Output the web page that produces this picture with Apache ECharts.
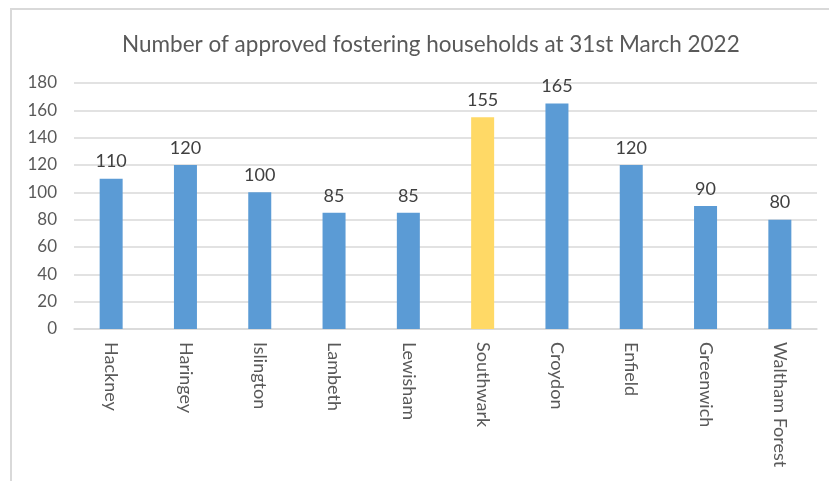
<!DOCTYPE html>
<html>
<head>
<meta charset="utf-8">
<script src="https://cdn.jsdelivr.net/npm/echarts@6/dist/echarts.min.js"></script>
<style>
    html, body {
        margin: 0;
        padding: 0;
        background: #fff;
    }
    .frame {
        position: absolute;
        left: 10px;
        top: 8px;
        width: 830px;
        height: 490px;
        border-left: 2px solid #d9d9d9;
        border-top: 2px solid #d9d9d9;
    }
    #chart {
        position: absolute;
        left: 0;
        top: 0;
        width: 829px;
        height: 481px;
    }
</style>
</head>
<body>
<div class="frame"></div>
<div id="chart"></div>
<script>
const boroughs = ['Hackney', 'Haringey', 'Islington', 'Lambeth', 'Lewisham', 'Southwark', 'Croydon', 'Enfield', 'Greenwich', 'Waltham Forest']
const households = [110, 120, 100, 85, 85, 155, 165, 120, 90, 80]
const highlighted = 'Southwark'

let myCharts = echarts.init(document.getElementById('chart'))
let option = {
    title: {
        text: 'Number of approved fostering households at 31st March 2022',
        left: 117,
        top: 28,
        textStyle: {
            color: '#595959',
            fontFamily: 'Lato',
            fontWeight: 'normal',
            fontSize: 22.5
        }
    },
    grid: {
        left: 74,
        right: 12,
        top: 83,
        bottom: 152
    },
    xAxis: {
        type: 'category',
        data: boroughs,
        axisLine: { lineStyle: { color: '#d9d9d9', width: 1.5 } },
        axisTick: { show: false },
        axisLabel: {
            rotate: -90,
            margin: 13,
            color: '#595959',
            fontFamily: 'Lato',
            fontSize: 18
        }
    },
    yAxis: {
        type: 'value',
        min: 0,
        max: 180,
        interval: 20,
        axisLine: { show: false },
        axisTick: { show: false },
        splitLine: { lineStyle: { color: '#d9d9d9', width: 1.5 } },
        axisLabel: {
            margin: 17,
            color: '#595959',
            fontFamily: 'Lato',
            fontSize: 17
        }
    },
    series: [
        {
            type: 'bar',
            barWidth: 23,
            data: households.map((v, i) => ({
                value: v,
                itemStyle: { color: boroughs[i] === highlighted ? '#ffd966' : '#5b9bd5' }
            })),
            label: {
                show: true,
                position: 'top',
                distance: 8,
                color: '#404040',
                fontFamily: 'Lato',
                fontSize: 18
            }
        }
    ]
}
myCharts.setOption(option)
</script>
</body>
</html>
